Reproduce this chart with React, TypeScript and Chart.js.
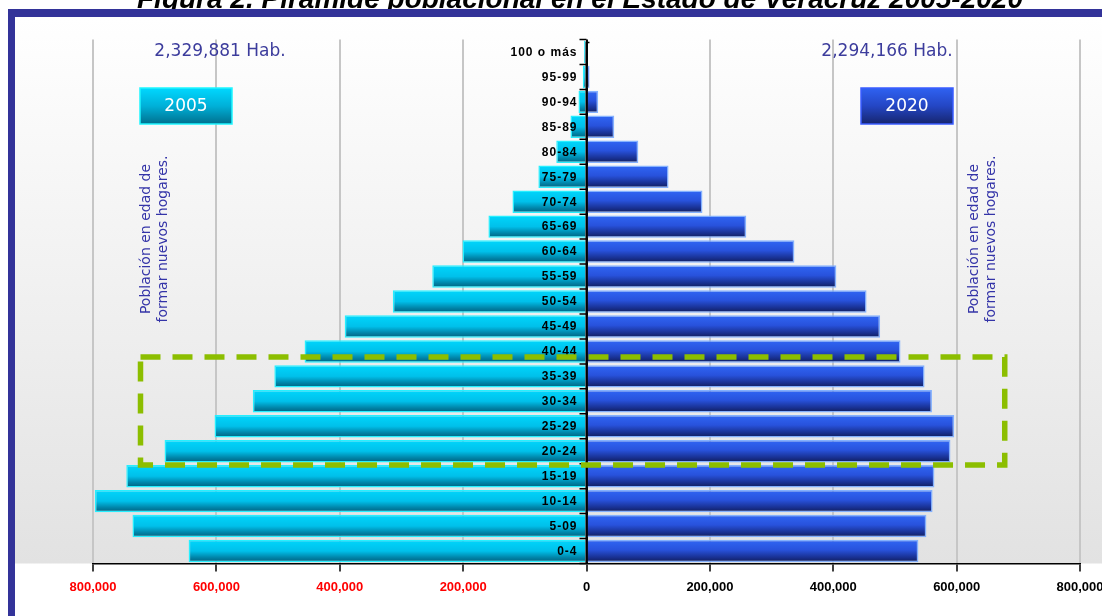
import { useEffect, useRef } from "react";
import { Chart, registerables } from "chart.js";

Chart.register(...registerables);

// ---------- data ----------
const categories = [
  "100 o más", "95-99", "90-94", "85-89", "80-84", "75-79", "70-74", "65-69",
  "60-64", "55-59", "50-54", "45-49", "40-44", "35-39", "30-34", "25-29",
  "20-24", "15-19", "10-14", "5-09", "0-4",
];
const pop2005 = [
  4000, 6000, 13000, 26000, 49000, 78000, 120000, 159000,
  201000, 250000, 314000, 392000, 457000, 506000, 541000, 603000,
  684000, 746000, 797000, 736000, 645000,
];
const pop2020 = [
  2000, 5000, 19000, 45000, 84000, 133000, 188000, 259000,
  337000, 405000, 454000, 476000, 509000, 548000, 560000, 596000,
  590000, 564000, 561000, 551000, 538000,
];
const seriesNames = ["2005", "2020"];
const totalLabels = ["2,329,881 Hab.", "2,294,166 Hab."];
const axisMin = -800000;
const axisMax = 800000;
const axisStep = 200000;
const highlightGroups = ["35-39", "30-34", "25-29", "20-24"];
const highlightFrom = -723000;
const highlightTo = 678000;
const noteLines = ["Población en edad de", "formar nuevos hogares."];
const titleText = "Figura 2. Pirámide poblacional en el Estado de Veracruz 2005-2020";

// ---------- styles ----------
const cyanStops: [number, string][] = [
  [0, "#00d6fc"], [0.5, "#00c0ea"], [0.8, "#0082a6"], [1, "#00627e"],
];
const blueStops: [number, string][] = [
  [0, "#3066f4"], [0.45, "#2852dc"], [0.8, "#182f8e"], [1, "#101d5a"],
];
const BAR_PCT = 0.9;

function barGradient(stops: [number, string][]) {
  return (c: any) => {
    const chart = c.chart;
    const y = chart.scales && chart.scales.y;
    if (!y || !chart.chartArea) return stops[1][1];
    const center = y.getPixelForValue(c.dataIndex);
    const pitch = Math.abs(y.getPixelForValue(1) - y.getPixelForValue(0));
    const half = (pitch * BAR_PCT) / 2;
    if (!isFinite(center) || !isFinite(half) || half <= 0) return stops[1][1];
    const g = chart.ctx.createLinearGradient(0, center - half, 0, center + half);
    stops.forEach(([o, col]) => g.addColorStop(o, col));
    return g;
  };
}

function drawYearBox(ctx: CanvasRenderingContext2D, x: number, y: number, w: number, h: number,
  stops: [number, string][], border: string, text: string) {
  const g = ctx.createLinearGradient(0, y, 0, y + h);
  stops.forEach(([o, col]) => g.addColorStop(o, col));
  ctx.fillStyle = g;
  ctx.fillRect(x, y, w, h);
  ctx.strokeStyle = border;
  ctx.lineWidth = 1.5;
  ctx.strokeRect(x, y, w, h);
  ctx.fillStyle = "#ffffff";
  ctx.font = '17px "DejaVu Sans"';
  ctx.textAlign = "center";
  ctx.textBaseline = "middle";
  ctx.fillText(text, x + w / 2, y + h / 2 + 1);
}

function drawNote(ctx: CanvasRenderingContext2D, cx: number, cy: number) {
  ctx.save();
  ctx.translate(cx, cy);
  ctx.rotate(-Math.PI / 2);
  ctx.fillStyle = "#3434a8";
  ctx.font = '14px "DejaVu Sans"';
  ctx.textAlign = "center";
  ctx.textBaseline = "middle";
  ctx.fillText(noteLines[0], 0, -8.5);
  ctx.fillText(noteLines[1], 0, 8.5);
  ctx.restore();
}

const decor = {
  id: "decor",
  beforeDraw(chart: any) {
    const { ctx, chartArea, width } = chart;
    const g = ctx.createLinearGradient(0, 17, 0, chartArea.bottom);
    g.addColorStop(0, "#ffffff");
    g.addColorStop(1, "#e2e2e2");
    ctx.save();
    ctx.fillStyle = g;
    ctx.fillRect(15, 17, width - 15, chartArea.bottom - 17);
    ctx.restore();
  },
  afterDatasetsDraw(chart: any) {
    const { ctx, chartArea } = chart;
    const x = chart.scales.x;
    const y = chart.scales.y;
    const x0 = x.getPixelForValue(0);
    const pitch = y.getPixelForValue(1) - y.getPixelForValue(0);
    ctx.save();

    // centre axis
    ctx.strokeStyle = "#000";
    ctx.lineWidth = 2;
    ctx.beginPath();
    ctx.moveTo(x0, chartArea.top + 2);
    ctx.lineTo(x0, chartArea.bottom);
    ctx.stroke();
    ctx.lineWidth = 1.5;
    ctx.beginPath();
    for (let i = 0; i <= categories.length; i++) {
      const yy = y.getPixelForValue(i) - pitch / 2;
      ctx.moveTo(x0 - 7, yy);
      ctx.lineTo(x0, yy);
    }
    ctx.moveTo(x0, chartArea.top + 3);
    ctx.lineTo(x0 + 3, chartArea.top + 3);
    ctx.stroke();

    // category labels
    ctx.fillStyle = "#000";
    ctx.font = 'bold 12px "Liberation Sans"';
    (ctx as any).letterSpacing = "1px";
    ctx.textAlign = "right";
    ctx.textBaseline = "middle";
    categories.forEach((c, i) => ctx.fillText(c, x0 - 9, y.getPixelForValue(i) + 0.5));
    (ctx as any).letterSpacing = "0px";

    // totals
    ctx.fillStyle = "#3c3c9c";
    ctx.font = '17px "DejaVu Sans"';
    ctx.textBaseline = "middle";
    ctx.textAlign = "center";
    ctx.fillText(totalLabels[0], 220, 52);
    ctx.fillText(totalLabels[1], 887, 52);

    // year boxes
    drawYearBox(ctx, 140, 88, 92, 36, [[0, "#00d8ff"], [0.5, "#00b0d8"], [1, "#00708e"]], "#1ef6ff", seriesNames[0]);
    drawYearBox(ctx, 861, 88, 92, 36, [[0, "#2f62f2"], [0.5, "#2446c4"], [1, "#16256e"]], "#3a5cff", seriesNames[1]);

    // side notes
    drawNote(ctx, 155, 239);
    drawNote(ctx, 982.5, 239);

    // highlight dashed box
    const iTop = categories.indexOf(highlightGroups[0]);
    const iBot = categories.indexOf(highlightGroups[highlightGroups.length - 1]);
    const top = y.getPixelForValue(iTop) - pitch * 0.78;
    const bot = y.getPixelForValue(iBot) + pitch * 0.55;
    const left = x.getPixelForValue(highlightFrom);
    const right = x.getPixelForValue(highlightTo);
    ctx.strokeStyle = "#8cbe00";
    ctx.lineWidth = 5.5;
    ctx.setLineDash([20, 12]);
    ctx.beginPath();
    ctx.moveTo(left, top);
    ctx.lineTo(right, top);
    ctx.lineTo(right, bot);
    ctx.lineTo(left, bot);
    ctx.closePath();
    ctx.stroke();
    ctx.setLineDash([]);
    ctx.restore();
  },
};

export default function App() {
  const ref = useRef<HTMLCanvasElement>(null);
  useEffect(() => {
    if (!ref.current) return;
    const chart = new Chart(ref.current, {
      type: "bar",
      data: {
        labels: categories,
        datasets: [
          {
            label: seriesNames[0],
            data: pop2005.map((v) => -v),
            backgroundColor: barGradient(cyanStops) as any,
            borderColor: "#26efff",
            borderWidth: 1.5,
            barPercentage: BAR_PCT,
            categoryPercentage: 1,
          },
          {
            label: seriesNames[1],
            data: pop2020,
            backgroundColor: barGradient(blueStops) as any,
            borderColor: "rgba(120,170,255,0.9)",
            borderWidth: 1.5,
            barPercentage: BAR_PCT,
            categoryPercentage: 1,
          },
        ],
      },
      options: {
        indexAxis: "y",
        animation: false,
        responsive: false,
        layout: { padding: { left: 93, right: 22, top: 39.5, bottom: 0 } },
        plugins: {
          legend: { display: false },
          tooltip: { enabled: false },
          title: { display: false },
        },
        scales: {
          x: {
            type: "linear",
            min: axisMin,
            max: axisMax,
            stacked: true,
            ticks: {
              stepSize: axisStep,
              autoSkip: false,
              maxRotation: 0,
              padding: 8,
              callback: (v: any) => Math.abs(Number(v)).toLocaleString("en-US"),
              color: (c: any) => (c.tick && c.tick.value < 0 ? "#ff0000" : "#000000"),
              font: { family: '"Liberation Sans"', weight: "bold", size: 13 },
            },
            grid: {
              color: (c: any) => (c.tick && c.tick.value === 0 ? "#000000" : "#c6c6c6"),
              lineWidth: 2,
              tickLength: 8,
              tickColor: "#000000",
              tickWidth: 1.5,
            },
            border: { display: true, color: "#000000", width: 1.5 },
            afterFit: (s: any) => {
              s.height = 52.5;
              s.paddingLeft = 0;
              s.paddingRight = 0;
            },
          },
          y: {
            type: "category",
            stacked: true,
            display: false,
            offset: true,
          },
        },
      },
      plugins: [decor],
    } as any);
    return () => chart.destroy();
  }, []);

  return (
    <div style={{ position: "absolute", left: 0, top: 0, width: 1102, height: 616, overflow: "hidden", background: "#ffffff" }}>
      <canvas ref={ref} width={1102} height={616} style={{ position: "absolute", left: 0, top: 0 }} />
      <div
        style={{
          position: "absolute",
          left: 580,
          top: -15.5,
          transform: "translateX(-50%)",
          whiteSpace: "nowrap",
          fontFamily: '"Liberation Sans", Arial, sans-serif',
          fontWeight: "bold",
          fontStyle: "italic",
          fontSize: 28,
          lineHeight: "28px",
          color: "#000",
        }}
      >
        {titleText}
      </div>
      <div
        style={{
          position: "absolute",
          left: 8,
          top: 9,
          width: 2000,
          height: 2000,
          borderLeft: "7px solid #333399",
          borderTop: "8px solid #333399",
          pointerEvents: "none",
        }}
      />
    </div>
  );
}
